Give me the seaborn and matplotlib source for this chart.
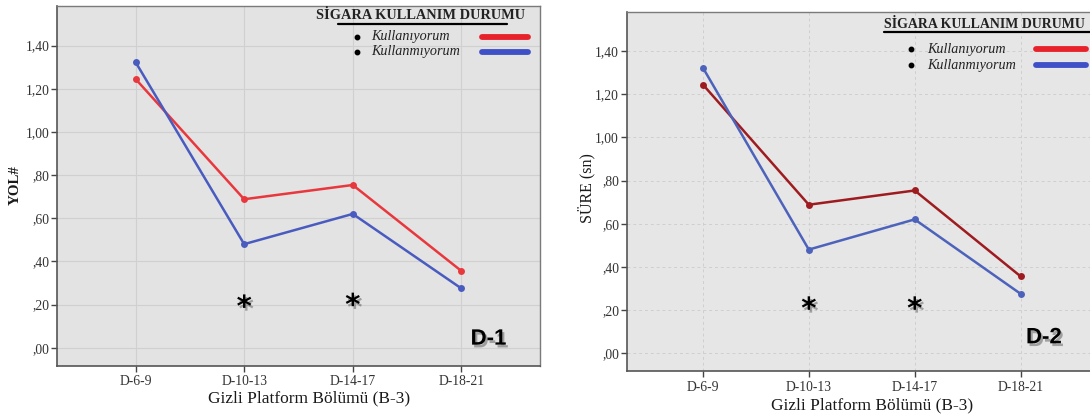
import matplotlib
matplotlib.use("Agg")
import matplotlib.pyplot as plt
import matplotlib.patheffects as pe
from matplotlib.lines import Line2D
import seaborn as sns
import pandas as pd

# ---------------- data ----------------
bolumler = ["D-6-9", "D-10-13", "D-14-17", "D-18-21"]
gruplar = ["Kullanıyorum", "Kullanmıyorum"]
kullaniyorum = [1.245, 0.688, 0.754, 0.356]
kullanmiyorum = [1.323, 0.480, 0.620, 0.275]
ytick_values = [0.0, 0.2, 0.4, 0.6, 0.8, 1.0, 1.2, 1.4]
ytick_labels = [",00", ",20", ",40", ",60", ",80", "1,00", "1,20", "1,40"]
yildiz_bolumleri = ["D-10-13", "D-14-17"]
yildiz_y_d1 = [0.198, 0.206]
yildiz_y_d2 = [0.214, 0.214]
panel_ylabels = ["YOL#", "SÜRE (sn)"]
panel_tags = ["D-1", "D-2"]
xlabel_text = "Gizli Platform Bölümü (B-3)"
legend_title = "SİGARA KULLANIM DURUMU"

df = pd.DataFrame({
    "bolum": bolumler * 2,
    "deger": kullaniyorum + kullanmiyorum,
    "grup": [gruplar[0]] * 4 + [gruplar[1]] * 4,
})

W, H = 1090, 416
sns.set_theme(style="white")
plt.rcParams["font.family"] = ["Liberation Serif", "DejaVu Serif"]

fig = plt.figure(figsize=(W / 100, H / 100), dpi=100)
fig.patch.set_facecolor("white")


def px_axes(l, t, r, b):
    return [l / W, 1 - b / H, (r - l) / W, (b - t) / H]


panels = [
    dict(rect=px_axes(57.4, 6, 539.5, 365.7), bg="#e3e3e3",
         grid=dict(color="#d0d0d0", linestyle="-", linewidth=0.8),
         pal={gruplar[0]: "#e8383d", gruplar[1]: "#4a5bc0"},
         stars=yildiz_y_d1, tag_xy=(3.25, 0.04),
         xlab=(0.521, -0.0898), ylab=(-0.0867, 0.502),
         ylab_kw=dict(fontsize=10.8, fontweight="bold")),
    dict(rect=px_axes(626.7, 11.7, 1096.8, 371), bg="#e6e6e6",
         grid=dict(color="#cfcfcf", linestyle=(0, (3, 3)), linewidth=0.7),
         pal={gruplar[0]: "#9e1c20", gruplar[1]: "#4d63bb"},
         stars=yildiz_y_d2, tag_xy=(3.22, 0.071),
         xlab=(0.521, -0.0946), ylab=(-0.085, 0.51),
         ylab_kw=dict(fontsize=11.5)),
]

for i, p in enumerate(panels):
    ax = fig.add_axes(p["rect"])
    ax.set_facecolor(p["bg"])
    sns.lineplot(data=df, x="bolum", y="deger", hue="grup", palette=p["pal"],
                 marker="o", markersize=5, markeredgewidth=0, linewidth=1.8,
                 sort=False, legend=False, ax=ax, zorder=3)
    ax.set_xlim(-0.72, 3.72)
    ax.set_ylim(-0.083, 1.583)
    ax.set_yticks(ytick_values)
    ax.set_yticklabels(ytick_labels)
    ax.set_xticks(range(len(bolumler)))
    ax.set_xticklabels(bolumler)
    ax.grid(True, **p["grid"])
    ax.set_axisbelow(True)
    ax.tick_params(axis="both", which="major", direction="out", length=4.5,
                   width=1.0, color="#444444", labelsize=9.8,
                   labelcolor="#333333", bottom=True, left=True)
    ax.tick_params(axis="y", pad=1)
    ax.tick_params(axis="x", pad=2.5)
    for side in ["left", "bottom"]:
        ax.spines[side].set_color("#555555")
        ax.spines[side].set_linewidth(1.2)
    for side in ["top", "right"]:
        ax.spines[side].set_color("#7a7a7a")
        ax.spines[side].set_linewidth(1.0)
    ax.set_xlabel(xlabel_text, fontsize=12.5, color="#1a1a1a", va="center")
    ax.xaxis.set_label_coords(*p["xlab"])
    ax.set_ylabel(panel_ylabels[i], color="#1a1a1a", va="center", **p["ylab_kw"])
    ax.yaxis.set_label_coords(*p["ylab"])

    shadow = [pe.withSimplePatchShadow(offset=(1.5, -2.0), shadow_rgbFace="black",
                                       alpha=0.3)]
    for b, yv in zip(yildiz_bolumleri, p["stars"]):
        ax.text(bolumler.index(b), yv, "*", ha="center", va="center_baseline",
                fontsize=21, fontweight="bold", family="DejaVu Sans",
                color="black", path_effects=shadow, zorder=4)
    ax.text(*p["tag_xy"], panel_tags[i], ha="center", va="center",
            fontsize=16, fontweight="bold", family="Liberation Sans",
            color="black", path_effects=shadow, zorder=4)


def fpx(x, y):
    return x / W, 1 - y / H


leg_red = "#e8222b"
leg_blue = "#3f4fc8"

# legend of panel D-1
fig.text(*fpx(420, 15.5), legend_title, ha="center", va="center",
         fontsize=10.4, fontweight="bold", color="#222222")
fig.add_artist(Line2D([338 / W, 507 / W], [1 - 24.3 / H] * 2, color="black",
                      linewidth=1.6, transform=fig.transFigure))
# legend of panel D-2 (fits just inside the right edge)
fig.text(*fpx(884, 25), legend_title, ha="left", va="center",
         fontsize=10.0, fontweight="bold", color="#222222")
fig.add_artist(Line2D([884 / W, 1092 / W], [1 - 32 / H] * 2, color="black",
                      linewidth=1.6, transform=fig.transFigure))

legend_rows = [
    dict(bx=357.3, tx=370.7, l0=481.7, l1=528, ys=[36.5, 52.0]),
    dict(bx=910.7, tx=926.7, l0=1035.7, l1=1085.7, ys=[49, 65]),
]
for row in legend_rows:
    for g, yy, col in zip(gruplar, row["ys"], [leg_red, leg_blue]):
        fig.add_artist(Line2D([row["bx"] / W], [1 - yy / H], marker="o",
                              markersize=3.2, color="black", linestyle="none",
                              transform=fig.transFigure))
        fig.text(*fpx(row["tx"], yy), g, ha="left", va="center", fontsize=10.2,
                 style="italic", color="#222222")
        fig.add_artist(Line2D([row["l0"] / W, row["l1"] / W], [1 - yy / H] * 2,
                              color=col, linewidth=4.2, solid_capstyle="round",
                              transform=fig.transFigure))

fig.savefig("out.png", dpi=100)
